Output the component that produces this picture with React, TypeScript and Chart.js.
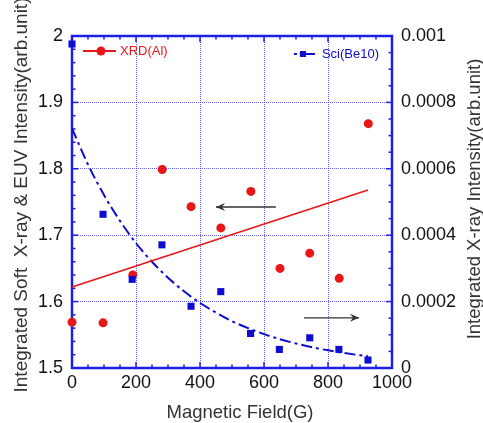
import React, { useEffect, useRef } from "react";
import { Chart, registerables } from "chart.js";

Chart.register(...registerables);

// ---------- data ----------
const fieldXRD = [0, 97, 190, 282, 372, 465, 559, 650, 743, 835, 926];
const intensityXRD = [1.569, 1.568, 1.64, 1.799, 1.743, 1.711, 1.766, 1.65, 1.673, 1.635, 1.868];

const fitFieldXRD = [0, 925];
const fitXRD = [1.622, 1.768];

const fieldSci = [0, 97, 188, 281, 372, 465, 558, 648, 743, 834, 925];
const intensitySci = [0.000976, 0.000463, 0.000267, 0.000371, 0.000186, 0.00023, 0.000104, 0.000056, 0.000091, 0.000056, 0.000024];

const fitFieldSci = [0, 50, 100, 150, 200, 250, 300, 350, 400, 450, 500, 550, 600, 650, 700, 750, 800, 850, 900, 925];
const fitSci = [0.000722, 0.000613, 0.000521, 0.000443, 0.000376, 0.00032, 0.000272, 0.000231, 0.000196, 0.000167, 0.000141, 0.00012, 0.000102, 0.0000868, 0.0000737, 0.0000626, 0.0000532, 0.0000452, 0.0000384, 0.0000354];

const xTickValues = [0, 200, 400, 600, 800, 1000];
const leftTickValues = [1.5, 1.6, 1.7, 1.8, 1.9, 2];
const leftTickLabels = ["1.5", "1.6", "1.7", "1.8", "1.9", "2"];
const rightTickValues = [0, 0.0002, 0.0004, 0.0006, 0.0008, 0.001];
const rightTickLabels = ["0", "0.0002", "0.0004", "0.0006", "0.0008", "0.001"];

// arrows: [fromField, toField, value] in data units
const leftArrow = [637, 450, 1.7425];
const rightArrow = [725, 897, 0.000151];

const seriesNames = ["XRD(Al)", "Sci(Be10)"];
const xTitle = "Magnetic Field(G)";
const leftTitle = "Integrated Soft  X-ray & EUV Intensity(arb.unit)";
const rightTitle = "Integrated X-ray Intensity(arb.unit)";
// ---------------------------------------------------

const FONT = "'Liberation Sans', Arial, Helvetica, sans-serif";
const RED = "rgb(232,22,22)";
const BLUE = "rgb(12,12,210)";
const AXIS_BLUE = "rgb(30,30,235)";
const GRID_BLUE = "rgba(70,70,255,0.85)";
const TITLE_COLOR = "#333";

function labelFor(values: number[], labels: string[], v: number) {
  for (let i = 0; i < values.length; i++) {
    if (Math.abs(values[i] - v) < 1e-9) return labels[i];
  }
  return "";
}

const decorPlugin = {
  id: "decor",
  beforeDatasetsDraw(chart: any) {
    const { ctx, chartArea: a, scales } = chart;
    const x = scales.x, y = scales.y, y1 = scales.y1;
    ctx.save();
    ctx.strokeStyle = AXIS_BLUE;
    ctx.lineWidth = 1.5;
    const seg = (x0: number, y0: number, x1: number, yy1: number) => {
      ctx.beginPath();
      ctx.moveTo(x0, y0);
      ctx.lineTo(x1, yy1);
      ctx.stroke();
    };
    for (let i = 0; i <= 20; i++) {
      const v = i * 50;
      const px = x.getPixelForValue(v);
      const len = i % 4 === 0 ? 6 : 3.5;
      seg(px, a.bottom, px, a.bottom - len);
      seg(px, a.top, px, a.top + len);
    }
    for (let i = 0; i <= 25; i++) {
      const v = 1.5 + i * 0.02;
      const py = y.getPixelForValue(v);
      const len = i % 5 === 0 ? 6 : 3.5;
      seg(a.left, py, a.left + len, py);
    }
    for (let i = 0; i <= 20; i++) {
      const v = i * 0.00005;
      const py = y1.getPixelForValue(v);
      const len = i % 4 === 0 ? 6 : 3.5;
      seg(a.right, py, a.right - len, py);
    }
    ctx.lineWidth = 2.5;
    ctx.strokeRect(a.left, a.top, a.right - a.left, a.bottom - a.top);
    ctx.restore();
  },
  afterDatasetsDraw(chart: any) {
    const { ctx, chartArea: a, scales } = chart;
    const x = scales.x, y = scales.y, y1 = scales.y1;
    ctx.save();
    // arrows
    const arrow = (x0: number, x1: number, py: number) => {
      ctx.strokeStyle = "#333";
      ctx.fillStyle = "#333";
      ctx.lineWidth = 1.3;
      ctx.beginPath();
      ctx.moveTo(x0, py);
      ctx.lineTo(x1, py);
      ctx.stroke();
      const d = x1 > x0 ? -1 : 1;
      ctx.beginPath();
      ctx.moveTo(x1, py);
      ctx.lineTo(x1 + d * 9, py - 4);
      ctx.lineTo(x1 + d * 6, py);
      ctx.lineTo(x1 + d * 9, py + 4);
      ctx.closePath();
      ctx.fill();
    };
    arrow(x.getPixelForValue(leftArrow[0]), x.getPixelForValue(leftArrow[1]), y.getPixelForValue(leftArrow[2]));
    arrow(x.getPixelForValue(rightArrow[0]), x.getPixelForValue(rightArrow[1]), y1.getPixelForValue(rightArrow[2]));

    // legends
    ctx.font = `13px ${FONT}`;
    ctx.textBaseline = "middle";
    const ly = a.top + 15;
    ctx.strokeStyle = RED;
    ctx.fillStyle = RED;
    ctx.lineWidth = 2;
    ctx.beginPath();
    ctx.moveTo(a.left + 11, ly);
    ctx.lineTo(a.left + 44, ly);
    ctx.stroke();
    ctx.beginPath();
    ctx.arc(a.left + 29, ly, 4.5, 0, Math.PI * 2);
    ctx.fill();
    ctx.textAlign = "left";
    ctx.fillText(seriesNames[0], a.left + 48, ly + 0.5);

    const ry = a.top + 18;
    const tw = ctx.measureText(seriesNames[1]).width;
    const tx = a.right - 13 - tw;
    ctx.fillStyle = BLUE;
    ctx.fillText(seriesNames[1], tx, ry + 0.5);
    ctx.strokeStyle = BLUE;
    ctx.lineWidth = 2;
    ctx.beginPath();
    ctx.moveTo(tx - 28, ry);
    ctx.lineTo(tx - 25, ry);
    ctx.moveTo(tx - 22, ry);
    ctx.lineTo(tx - 7, ry);
    ctx.stroke();
    ctx.fillRect(tx - 22, ry - 3, 6, 6);
    ctx.restore();
  },
  afterDraw(chart: any) {
    const { ctx, chartArea: a } = chart;
    ctx.save();
    ctx.fillStyle = TITLE_COLOR;
    ctx.textAlign = "center";
    ctx.textBaseline = "middle";
    // x title
    ctx.font = `18.5px ${FONT}`;
    ctx.fillText(xTitle, (a.left + a.right) / 2 + 8, a.bottom + 45);
    // left title (reads bottom to top)
    ctx.font = `19px ${FONT}`;
    ctx.save();
    ctx.translate(a.left - 50, (a.top + a.bottom) / 2 - 7);
    ctx.rotate(-Math.PI / 2);
    ctx.fillText(leftTitle, 0, 0);
    ctx.restore();
    // right title (also reads bottom to top)
    ctx.font = `18.5px ${FONT}`;
    ctx.save();
    ctx.translate(a.right + 83, (a.top + a.bottom) / 2 - 3);
    ctx.rotate(-Math.PI / 2);
    ctx.fillText(rightTitle, 0, 0);
    ctx.restore();
    ctx.restore();
  },
};

export default function App() {
  const ref = useRef<HTMLCanvasElement | null>(null);

  useEffect(() => {
    if (!ref.current) return;
    const chart = new Chart(ref.current, {
      type: "scatter",
      data: {
        datasets: [
          {
            label: seriesNames[0],
            data: fieldXRD.map((f, i) => ({ x: f, y: intensityXRD[i] })),
            yAxisID: "y",
            showLine: false,
            pointStyle: "circle",
            pointRadius: 4.5,
            pointBackgroundColor: RED,
            pointBorderColor: RED,
            pointBorderWidth: 0,
            clip: false,
            order: 1,
          },
          {
            label: "XRD fit",
            data: fitFieldXRD.map((f, i) => ({ x: f, y: fitXRD[i] })),
            yAxisID: "y",
            showLine: true,
            borderColor: RED,
            borderWidth: 1.6,
            pointRadius: 0,
            clip: false,
            order: 2,
          },
          {
            label: seriesNames[1],
            data: fieldSci.map((f, i) => ({ x: f, y: intensitySci[i] })),
            yAxisID: "y1",
            showLine: false,
            pointStyle: "rect",
            pointRadius: 5,
            pointBackgroundColor: BLUE,
            pointBorderColor: BLUE,
            pointBorderWidth: 0,
            clip: false,
            order: 0,
          },
          {
            label: "Sci fit",
            data: fitFieldSci.map((f, i) => ({ x: f, y: fitSci[i] })),
            yAxisID: "y1",
            showLine: true,
            borderColor: BLUE,
            borderWidth: 2,
            borderDash: [11, 4, 3, 4],
            pointRadius: 0,
            cubicInterpolationMode: "monotone",
            clip: false,
            order: 3,
          },
        ],
      },
      options: {
        responsive: false,
        animation: false,
        layout: { padding: { top: 36, left: 0, right: 0, bottom: 0 } },
        plugins: {
          legend: { display: false },
          tooltip: { enabled: false },
        },
        scales: {
          x: {
            type: "linear",
            min: 0,
            max: 1000,
            afterFit: (s: any) => {
              s.height = 55;
            },
            afterBuildTicks: (s: any) => {
              s.ticks = xTickValues.map((v) => ({ value: v }));
            },
            ticks: {
              autoSkip: false,
              maxRotation: 0,
              padding: 4,
              color: "#111",
              font: { family: FONT, size: 18 },
              callback: (v: any) => String(v),
            },
            grid: {
              display: true,
              drawTicks: false,
              color: GRID_BLUE,
              lineWidth: 1,
            },
            border: { display: false, dash: [1, 1] },
            title: { display: false },
          },
          y: {
            type: "linear",
            position: "left",
            min: 1.5,
            max: 2,
            afterFit: (s: any) => {
              s.width = 72;
            },
            afterBuildTicks: (s: any) => {
              s.ticks = leftTickValues.map((v) => ({ value: v }));
            },
            ticks: {
              autoSkip: false,
              padding: 9,
              color: "#111",
              font: { family: FONT, size: 18 },
              callback: (v: any) => labelFor(leftTickValues, leftTickLabels, Number(v)),
            },
            grid: {
              display: true,
              drawTicks: false,
              color: GRID_BLUE,
              lineWidth: 1,
            },
            border: { display: false, dash: [1, 1] },
            title: { display: false },
          },
          y1: {
            type: "linear",
            position: "right",
            min: 0,
            max: 0.001,
            afterFit: (s: any) => {
              s.width = 91;
            },
            afterBuildTicks: (s: any) => {
              s.ticks = rightTickValues.map((v) => ({ value: v }));
            },
            ticks: {
              autoSkip: false,
              padding: 9,
              color: "#111",
              font: { family: FONT, size: 18 },
              callback: (v: any) => labelFor(rightTickValues, rightTickLabels, Number(v)),
            },
            grid: { display: false, drawTicks: false },
            border: { display: false },
            title: { display: false },
          },
        },
      },
      plugins: [decorPlugin],
    } as any);
    return () => chart.destroy();
  }, []);

  return (
    <div style={{ position: "absolute", left: 0, top: 0, width: 483, height: 423, background: "#fff" }}>
      <canvas ref={ref} width={483} height={423} style={{ width: 483, height: 423, display: "block" }} />
    </div>
  );
}
